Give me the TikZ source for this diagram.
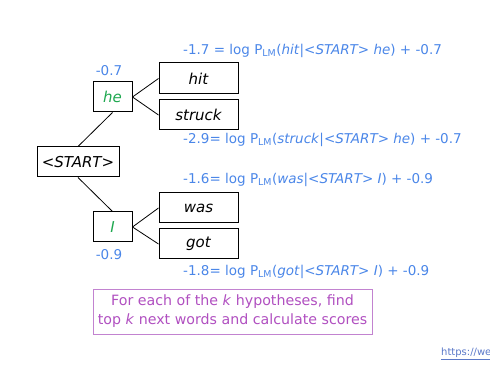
\documentclass[tikz,border=0pt]{standalone}
\usepackage{fontspec}
\setmainfont{DejaVu Sans}
\definecolor{lblue}{HTML}{4A86E8}
\definecolor{wgreen}{HTML}{1FA850}
\definecolor{purp}{HTML}{B04FC0}
\definecolor{purpb}{HTML}{C283D0}
\definecolor{urlc}{HTML}{5A78C8}
\begin{document}
\begin{tikzpicture}[x=1pt,y=-1pt,
  wbox/.style={draw=black,line width=1pt,inner sep=0pt,font=\fontsize{15}{18}\selectfont\itshape},
  lbl/.style={text=lblue,font=\fontsize{13.5}{15}\selectfont,inner sep=0pt},
  conn/.style={draw=black,line width=0.8pt}]
\useasboundingbox (0,0) rectangle (490,366);
\node[wbox,minimum width=82pt,minimum height=30pt] (start) at (78,162) {<START>};
\node[wbox,minimum width=39pt,minimum height=30pt,text=wgreen] (he) at (112.5,97) {he};
\node[wbox,minimum width=39pt,minimum height=30pt,text=wgreen] (I) at (112.5,227) {I};
\node[wbox,minimum width=79pt,minimum height=31pt] (hit) at (198.5,78.5) {hit};
\node[wbox,minimum width=79pt,minimum height=30pt] (struck) at (198.5,115) {struck};
\node[wbox,minimum width=79pt,minimum height=30pt] (was) at (198.5,208) {was};
\node[wbox,minimum width=79pt,minimum height=30pt] (got) at (198.5,244) {got};
\draw[conn] (start.north) -- (he.south);
\draw[conn] (start.south) -- (I.north);
\draw[conn] (he.east) -- (hit.west);
\draw[conn] (he.east) -- (struck.west);
\draw[conn] (I.east) -- (was.west);
\draw[conn] (I.east) -- (got.west);
\node[lbl] (she) at (109,71) {-0.7};
\node[lbl] (sI) at (109,255) {-0.9};
\node[lbl,anchor=west] (l1) at (183,51) {-1.7 = log P\textsubscript{LM}(\textit{hit}|\textit{<START> he}) + -0.7};
\node[lbl,anchor=west] (l2) at (183,140) {-2.9= log P\textsubscript{LM}(\textit{struck}|\textit{<START> he}) + -0.7};
\node[lbl,anchor=west] (l3) at (183,180) {-1.6= log P\textsubscript{LM}(\textit{was}|\textit{<START> I}) + -0.9};
\node[lbl,anchor=west] (l4) at (183,272) {-1.8= log P\textsubscript{LM}(\textit{got}|\textit{<START> I}) + -0.9};
\node[draw=purpb,line width=1pt,minimum width=279pt,minimum height=45pt,inner sep=0pt,text=purp,align=center,font=\fontsize{14.2}{19}\selectfont] (note) at (232.5,311.5) {For each of the \textit{k} hypotheses, find\\top \textit{k} next words and calculate scores};
\node[anchor=west,inner sep=0pt,text=urlc,font=\fontsize{10}{12}\selectfont] (url) at (441,354) {\underline{https://we}};
\end{tikzpicture}
\end{document}
